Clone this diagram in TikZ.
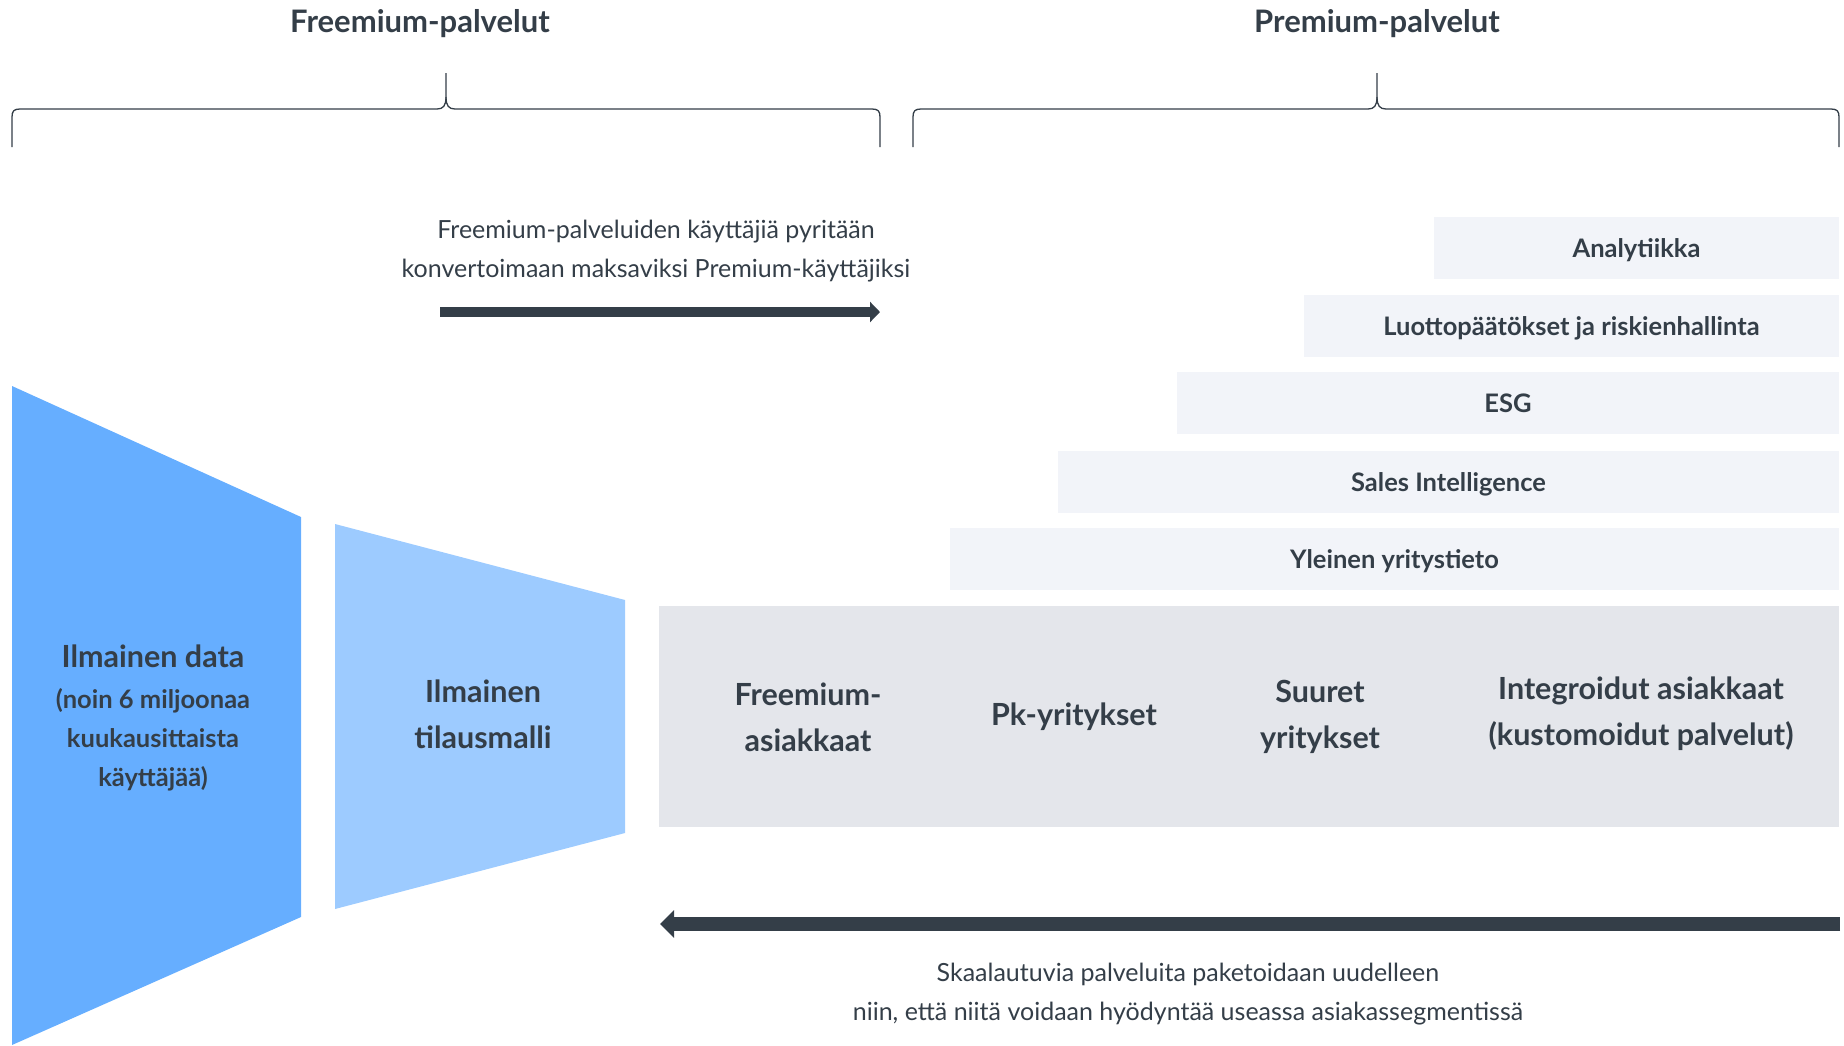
\documentclass[tikz,border=0pt]{standalone}
\usepackage{fontspec}
\setmainfont{Lato}
\usetikzlibrary{arrows.meta}
\definecolor{ink}{HTML}{343E48}
\definecolor{bigblue}{HTML}{66AEFF}
\definecolor{paleblue}{HTML}{9DCBFF}
\definecolor{tierfill}{HTML}{F2F4F9}
\definecolor{segfill}{HTML}{E4E6EB}
\newcommand{\fsz}[2]{\fontsize{#1}{#2}\selectfont}

\begin{document}
\begin{tikzpicture}[x=1pt, y=-1pt, every node/.style={text=ink, align=center, inner sep=0pt},
    head/.style={font=\bfseries\fsz{31}{36}},
    note/.style={font=\fsz{25}{39}},
    big/.style={font=\bfseries\fsz{30.5}{46}},
    small/.style={font=\bfseries\fsz{25.5}{39}},
    tier/.style={fill=tierfill, font=\bfseries\fsz{25.5}{29}, minimum height=62pt, text height=18pt, text depth=0pt},
    brace/.style={draw=ink, line width=1.3pt} ]
    \useasboundingbox (0,0) rectangle (1844,1045);
    %\draw[help lines] (0,0) grid[step=100] (1844,1045);
    \node[head, anchor=base] (free) at (420,32) {Freemium-palvelut};
    \node[head, anchor=base] (prem) at (1377,32) {Premium-palvelut};
    \draw[brace] (12,147) -- (12,117) .. controls (12,111) and (14,109) .. (20,109) -- (437,109) .. controls (443,109) and (446,106) .. (446,97) -- (446,73);
    \draw[brace] (880,147) -- (880,117) .. controls (880,111) and (878,109) .. (872,109) -- (455,109) .. controls (449,109) and (446,106) .. (446,97);
    \draw[brace] (913,147) -- (913,117) .. controls (913,111) and (915,109) .. (921,109) -- (1368,109) .. controls (1374,109) and (1377,106) .. (1377,97) -- (1377,73);
    \draw[brace] (1839,147) -- (1839,117) .. controls (1839,111) and (1837,109) .. (1831,109) -- (1386,109) .. controls (1380,109) and (1377,106) .. (1377,97);

    \node[note] (conv) at (656,251) {Freemium-palveluiden käyttäjiä pyritään\\konvertoimaan maksaviksi Premium-käyttäjiksi};
    \coordinate (up0) at (440,312);
    \coordinate (up1) at (880,312);
    \draw[ink, line width=10pt, -{Triangle[length=10pt,width=20pt]}] (up0) -- (up1);

    \node[tier, minimum width=405pt] (ana) at (1636.5,248) {Analytiikka};
    \node[tier, minimum width=535pt] (luotto) at (1571.5,326) {Luottopäätökset ja riskienhallinta};
    \node[tier, minimum width=662pt] (esg) at (1508,403) {ESG};
    \node[tier, minimum width=781pt] (sales) at (1448.5,482) {Sales Intelligence};
    \node[tier, minimum width=889pt] (yleinen) at (1394.5,559) {Yleinen yritystieto};

    \fill[bigblue] (12,386) -- (301,517) -- (301,917) -- (12,1045) -- cycle;
    \fill[paleblue] (335,524) -- (625,600) -- (625,833) -- (335,909) -- cycle;
    \fill[segfill] (659,606) rectangle (1839,827);

    \node[big, anchor=base] (data) at (153,667) {Ilmainen data};
    \node[small] (users) at (153,740) {(noin 6 miljoonaa\\kuukausittaista\\käyttäjää)};
    \node[big] (tilaus) at (483,714) {Ilmainen\\tilausmalli};
    \node[big] (fasiak) at (808,717) {Freemium-\\asiakkaat};
    \node[big] (pk) at (1074,717) {Pk-yritykset};
    \node[big] (suuret) at (1320,717) {Suuret\\yritykset};
    \node[big] (integ) at (1641,714) {Integroidut asiakkaat\\(kustomoidut palvelut)};

    \coordinate (dn0) at (1840,924);
    \coordinate (dn1) at (660,924);
    \draw[ink, line width=14pt, -{Triangle[length=14pt,width=27pt]}] (dn0) -- (dn1);
    \node[note] (pake) at (1188,994) {Skaalautuvia palveluita paketoidaan uudelleen\\niin, että niitä voidaan hyödyntää useassa asiakassegmentissä};
\end{tikzpicture}
\end{document}
